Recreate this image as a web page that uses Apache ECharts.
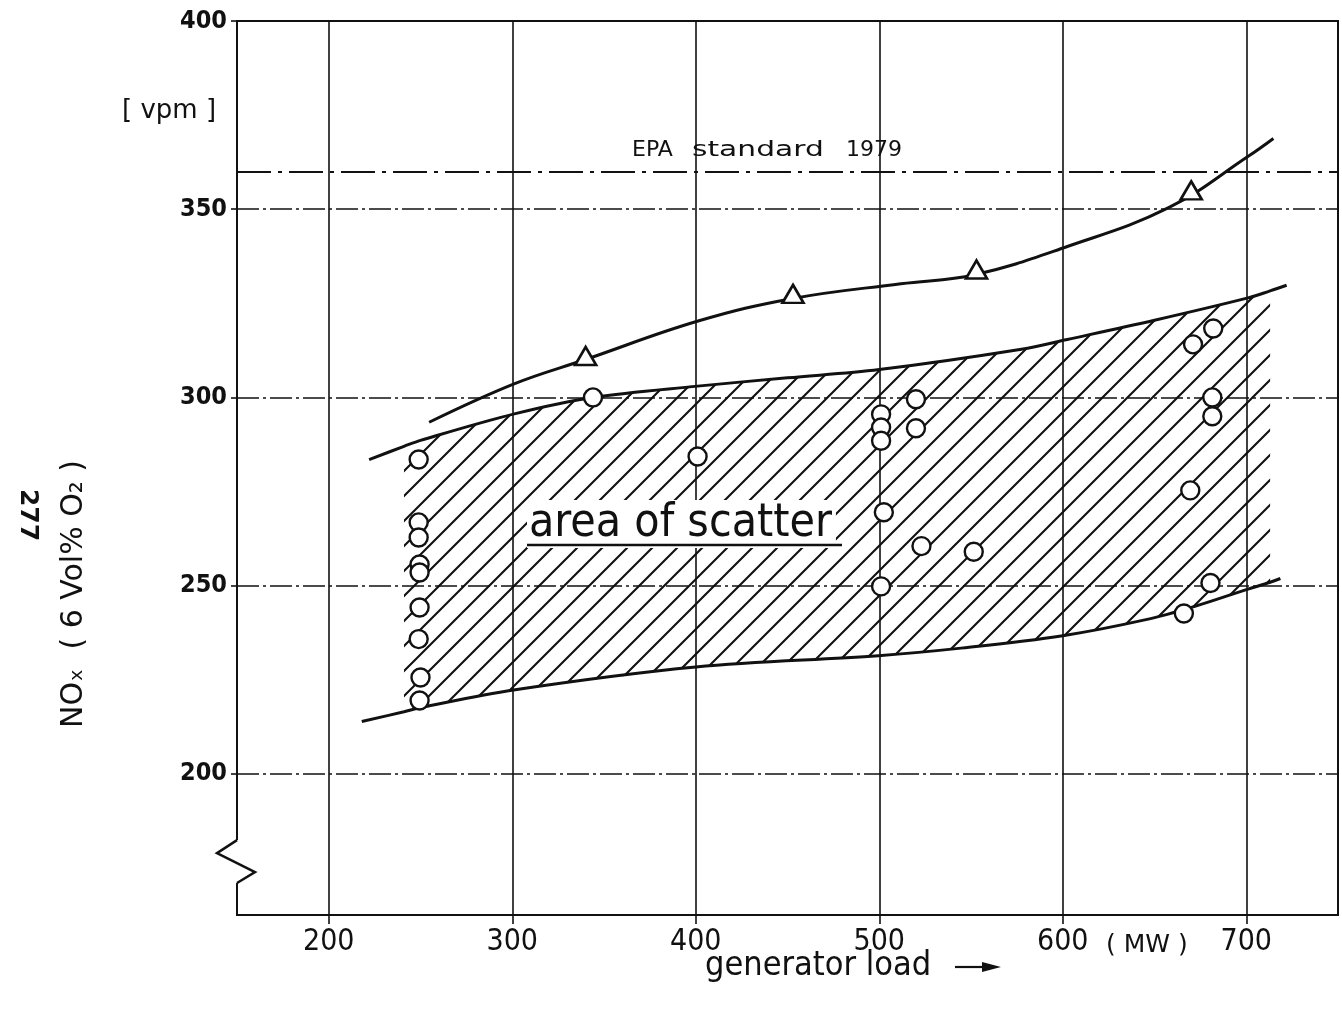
<!DOCTYPE html>
<html>
<head>
<meta charset="utf-8">
<script src="https://cdn.jsdelivr.net/npm/echarts@6/dist/echarts.min.js"></script>
<style>
  html, body { margin: 0; padding: 0; background: #fff; }
  #chart { width: 1342px; height: 1012px; }
</style>
</head>
<body>
<div id="chart"></div>
<script>
// axis ticks
const xTicks = [200, 300, 400, 500, 600, 700]
const yTicks = [200, 250, 300, 350, 400]
const epaLimit = 360

// upper curve with triangle measurements
const triangles = [[340, 311], [453, 327.5], [553, 334], [670, 355]]
const triangleCurve = [
  [254.7, 293.4], [301, 303.6], [339.5, 310], [401.3, 320.3], [453, 326.3],
  [511.8, 330.2], [552, 332.6], [602.5, 340.1], [657.7, 350.4], [701.5, 364.2], [714.8, 368.8]
]

// envelope of the scatter band
const scatterUpper = [
  [222, 283.5], [241, 287], [250, 288.6], [301.7, 295.7], [344, 300], [401, 303],
  [450, 305.2], [500, 307.4], [577.5, 312.8], [602.5, 315.4], [650, 320.5],
  [701.5, 326.5], [713, 328.3], [722, 329.8]
]
const scatterLower = [
  [218, 213.9], [241, 216.5], [250, 217.6], [300.7, 222.3], [400, 228.4],
  [499.5, 231.4], [544.6, 233.4], [600, 236.7], [644.7, 240.9], [672, 244.5],
  [700.5, 249], [713, 250.9], [718.6, 251.9]
]
const hatchFrom = 241
const hatchTo = 713

// circle measurements
const circles = [
  [249, 283.5], [249, 266.8], [249, 262.8], [249.5, 255.6], [249.5, 253.5],
  [249.5, 244.2], [249, 235.8], [250, 225.6], [249.5, 219.5],
  [344, 300], [401, 284.3],
  [501, 295.5], [501, 292], [501, 288.5], [502.5, 269.5], [501, 249.8],
  [520, 299.5], [520, 291.8], [523, 260.5], [551.5, 259],
  [671, 314.1], [682, 318.3], [681.5, 300], [681.5, 295], [669.5, 275.3],
  [680.5, 250.7], [666, 242.6]
]

const ink = '#111'
const sans = "'DejaVu Sans', sans-serif"
const cond = "'DejaVu Sans Condensed', 'DejaVu Sans', sans-serif"

function hatchPattern() {
  const s = 25
  const c = document.createElement('canvas')
  c.width = s
  c.height = s
  const g = c.getContext('2d')
  g.strokeStyle = ink
  g.lineWidth = 2.1
  g.beginPath()
  g.moveTo(0, s); g.lineTo(s, 0)
  g.moveTo(-3, 3); g.lineTo(3, -3)
  g.moveTo(s - 3, s + 3); g.lineTo(s + 3, s - 3)
  g.stroke()
  return c
}
const hatch = hatchPattern()

const chart = echarts.init(document.getElementById('chart'))

const option = {
  animation: false,
  backgroundColor: '#fff',
  grid: { left: 237, right: 4, top: 21, bottom: 97, show: true, borderColor: ink, borderWidth: 2 },
  xAxis: {
    type: 'value', min: 150, max: 750,
    axisLine: { show: true, onZero: false, lineStyle: { color: ink, width: 2 } },
    axisTick: { show: true, customValues: xTicks, length: 9, lineStyle: { color: ink, width: 1.6 } },
    axisLabel: { customValues: xTicks, color: ink, fontFamily: cond, fontSize: 30, margin: 12 },
    splitLine: { show: false }
  },
  yAxis: {
    type: 'value', min: 162.5, max: 400,
    axisLine: { show: false },
    axisTick: { show: true, customValues: yTicks, length: 6, lineStyle: { color: ink, width: 1.6 } },
    axisLabel: { customValues: yTicks, color: ink, fontFamily: cond, fontWeight: 'bold', fontSize: 25, margin: 10 },
    splitLine: { show: false }
  },
  series: [
    {
      type: 'custom',
      silent: true,
      z: 1,
      data: [[hatchFrom, 250]],
      renderItem(params, api) {
        const inside = p => p[0] >= hatchFrom && p[0] <= hatchTo
        const top = scatterUpper.filter(inside)
        const bottom = scatterLower.filter(inside).reverse()
        const points = top.concat(bottom).map(p => api.coord(p))
        return {
          type: 'polygon',
          shape: { points },
          style: { fill: { image: hatch, repeat: 'repeat' }, stroke: null }
        }
      }
    },
    {
      type: 'line', data: triangleCurve, smooth: 0.4, showSymbol: false, z: 3,
      lineStyle: { color: ink, width: 3 },
      markLine: {
        silent: true, symbol: 'none', label: { show: false }, z: 2,
        data: [
          ...xTicks.map(v => ({ xAxis: v, lineStyle: { color: ink, width: 1.6, type: 'solid' } })),
          ...yTicks.slice(0, -1).map(v => ({ yAxis: v, lineStyle: { color: ink, width: 1.5, type: [22, 4, 3, 4] } })),
          { yAxis: epaLimit, lineStyle: { color: ink, width: 2.2, type: [34, 7, 4, 7] } }
        ]
      }
    },
    { type: 'line', data: scatterUpper, smooth: 0.35, showSymbol: false, z: 3, lineStyle: { color: ink, width: 3 } },
    { type: 'line', data: scatterLower, smooth: 0.35, showSymbol: false, z: 3, lineStyle: { color: ink, width: 3 } },
    {
      type: 'scatter', data: circles, symbol: 'circle', symbolSize: 18, z: 5,
      itemStyle: { color: '#fff', borderColor: ink, borderWidth: 2.4, opacity: 1 }
    },
    {
      type: 'scatter', data: triangles, symbol: 'triangle', symbolSize: [21, 18], z: 5,
      itemStyle: { color: '#fff', borderColor: ink, borderWidth: 2.6, opacity: 1 }
    }
  ]
}
chart.setOption(option)

// axis break on the left edge between these two values
const breakTop = 182.4
const breakBottom = 171
const [ax, y1] = chart.convertToPixel({ gridIndex: 0 }, [150, breakTop])
const y2 = chart.convertToPixel({ gridIndex: 0 }, [150, breakBottom])[1]

chart.setOption({
  graphic: [
    { type: 'rect', z: 50, shape: { x: ax - 4, y: y1, width: 8, height: y2 - y1 }, style: { fill: '#fff' } },
    {
      type: 'polyline', z: 51,
      shape: { points: [[ax, y1], [ax - 20, y1 + 13], [ax + 18, y1 + 32], [ax, y2]] },
      style: { stroke: ink, lineWidth: 2.5, fill: null }
    },
    { type: 'text', z: 60, left: 122, top: 98, style: { text: '[ vpm ]', font: `26px ${sans}`, fill: ink } },
    {
      type: 'text', z: 60, x: 74, y: 594, rotation: Math.PI / 2,
      style: { text: 'NOₓ  ( 6 Vol% O₂ )', font: `30px ${sans}`, fill: ink, align: 'center', verticalAlign: 'middle' }
    },
    {
      type: 'text', z: 60, x: 27, y: 515, rotation: -Math.PI / 2,
      style: { text: '277', font: `bold 25px ${sans}`, fill: ink, align: 'center', verticalAlign: 'middle' }
    },
    { type: 'text', z: 60, x: 632, y: 150, style: { text: 'EPA', font: `22px ${sans}`, fill: ink, verticalAlign: 'middle' } },
    {
      type: 'text', z: 60, x: 692, y: 150, scaleX: 1.35,
      style: { text: 'standard', font: `22px ${sans}`, fill: ink, verticalAlign: 'middle' }
    },
    { type: 'text', z: 60, x: 846, y: 150, style: { text: '1979', font: `22px ${sans}`, fill: ink, verticalAlign: 'middle' } },
    {
      type: 'text', z: 60, x: 527, y: 524,
      style: {
        text: 'area of scatter', font: `46px ${cond}`, fill: ink, verticalAlign: 'middle',
        backgroundColor: '#fff', padding: [0, 4, 2, 2]
      }
    },
    { type: 'line', z: 61, shape: { x1: 527, y1: 545, x2: 842, y2: 545 }, style: { stroke: ink, lineWidth: 2.6 } },
    {
      type: 'text', z: 60, x: 1106, y: 945,
      style: { text: '( MW )', font: `25px ${sans}`, fill: ink, verticalAlign: 'middle' }
    },
    {
      type: 'text', z: 60, x: 705, y: 966,
      style: { text: 'generator load', font: `34px ${cond}`, fill: ink, verticalAlign: 'middle' }
    },
    { type: 'line', z: 60, shape: { x1: 955, y1: 967, x2: 985, y2: 967 }, style: { stroke: ink, lineWidth: 2.2 } },
    { type: 'polygon', z: 60, shape: { points: [[982, 962], [1001, 967], [982, 972]] }, style: { fill: ink } }
  ]
})

window.addEventListener('resize', () => chart.resize())
</script>
</body>
</html>
